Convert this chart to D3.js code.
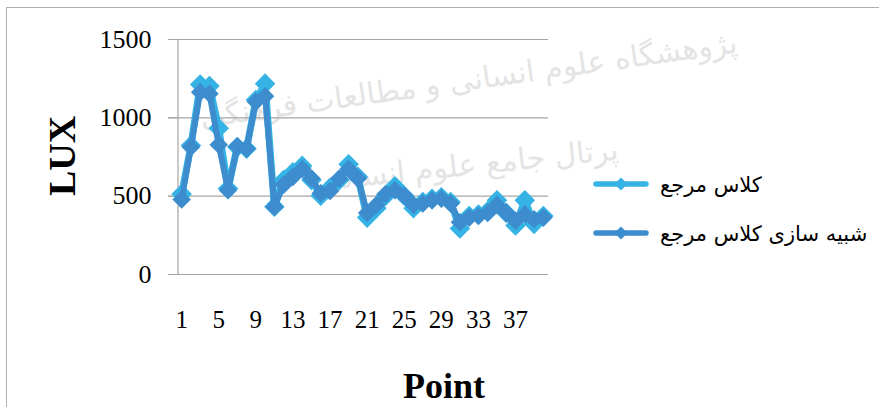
<!DOCTYPE html>
<html>
<head>
<meta charset="utf-8">
<script src="https://cdn.jsdelivr.net/npm/d3@7"></script>
<style>
  body { margin: 0; background: #fff; }
  svg { display: block; }
</style>
</head>
<body>
<div id="chart"></div>
<script>
var svgWidth = 879;
var svgHeight = 407;

// data
var points = d3.range(1, 41);
var seriesNames = ["کلاس مرجع", "شبیه سازی کلاس مرجع"];
var refClass = [510, 820, 1210, 1200, 930, 545, 810, 800, 1110, 1215,
  430, 600, 650, 690, 600, 500, 550, 600, 700, 620,
  360, 420, 500, 560, 500, 420, 460, 480, 490, 460,
  290, 370, 380, 400, 470, 390, 310, 470, 320, 370];
var simClass = [475, 810, 1160, 1150, 825, 535, 815, 800, 1100, 1135,
  430, 570, 620, 670, 610, 515, 530, 610, 670, 610,
  390, 440, 510, 535, 500, 440, 450, 470, 480, 450,
  330, 360, 370, 390, 440, 390, 340, 380, 350, 360];
var yTicks = [0, 500, 1000, 1500];
var xTickLabels = [1, 5, 9, 13, 17, 21, 25, 29, 33, 37];
var colors = ["#36b3e5", "#3d8ccd"];

var svg = d3.select("#chart")
  .append("svg")
  .attr("width", svgWidth)
  .attr("height", svgHeight);

// frame
svg.append("rect")
  .attr("x", 6.5).attr("y", 7.5)
  .attr("width", 900).attr("height", 450)
  .attr("fill", "none")
  .attr("stroke", "#b0b0b0");

// faint watermark
var wm = svg.append("g").attr("fill", "#e4e4e4").attr("font-family", "DejaVu Sans");
wm.append("text")
  .attr("transform", "translate(470,90) rotate(-8)")
  .attr("text-anchor", "middle")
  .attr("font-size", 30)
  .text("پژوهشگاه علوم انسانی و مطالعات فرهنگی");
wm.append("text")
  .attr("transform", "translate(470,175) rotate(-6)")
  .attr("text-anchor", "middle")
  .attr("font-size", 30)
  .text("پرتال جامع علوم انسانی");

// scales
var xScale = d3.scaleBand()
  .domain(points)
  .range([177, 548]);
var yScale = d3.scaleLinear()
  .domain([0, 1500])
  .range([274, 39]);

function px(d, i) { return xScale(points[i]) + xScale.bandwidth() / 2; }

// gridlines
svg.append("g")
  .selectAll("line")
  .data(yTicks)
  .enter()
  .append("line")
  .attr("x1", 168).attr("x2", 548)
  .attr("y1", function(d) { return yScale(d) + 0.5; })
  .attr("y2", function(d) { return yScale(d) + 0.5; })
  .attr("stroke", "#a6a6a6")
  .attr("stroke-width", 1.2);

// y axis
var yAxis = d3.axisLeft(yScale)
  .tickValues(yTicks)
  .tickFormat(d3.format("d"))
  .tickSize(9)
  .tickPadding(17);
var gy = svg.append("g")
  .attr("transform", "translate(177.5,0)")
  .call(yAxis);
gy.select(".domain").attr("stroke", "#a6a6a6").attr("stroke-width", 1.2);
gy.selectAll(".tick line").attr("stroke", "#a6a6a6");
gy.selectAll("text")
  .attr("font-family", "Liberation Serif")
  .attr("font-size", 26)
  .attr("fill", "#000");

// x axis labels
var xAxis = d3.axisBottom(xScale)
  .tickValues(xTickLabels)
  .tickSize(0)
  .tickPadding(36);
var gx = svg.append("g")
  .attr("transform", "translate(0,274)")
  .call(xAxis);
gx.select(".domain").remove();
gx.selectAll("text")
  .attr("font-family", "Liberation Serif")
  .attr("font-size", 25)
  .attr("fill", "#000");

// axis titles
svg.append("text")
  .attr("transform", "translate(75,156) rotate(-90)")
  .attr("text-anchor", "middle")
  .attr("font-family", "Liberation Serif")
  .attr("font-weight", "bold")
  .attr("font-size", 38)
  .text("LUX");
svg.append("text")
  .attr("x", 444).attr("y", 398)
  .attr("text-anchor", "middle")
  .attr("font-family", "Liberation Serif")
  .attr("font-weight", "bold")
  .attr("font-size", 36)
  .text("Point");

// series
var line = d3.line()
  .x(px)
  .y(function(d) { return yScale(d); });

var diamond = d3.symbol().type(d3.symbolDiamond2);

[refClass, simClass].forEach(function(values, k) {
  var g = svg.append("g");
  g.append("path")
    .datum(values)
    .attr("d", line)
    .attr("fill", "none")
    .attr("stroke", colors[k])
    .attr("stroke-width", k === 0 ? 7 : 6)
    .attr("stroke-linejoin", "round");
  g.selectAll("path.mk")
    .data(values)
    .enter()
    .append("path")
    .attr("class", "mk")
    .attr("d", diamond.size(k === 0 ? 270 : 220))
    .attr("transform", function(d, i) {
      return "translate(" + px(d, i) + "," + yScale(d) + ")";
    })
    .attr("fill", colors[k]);
});

// legend
var legend = svg.append("g");
seriesNames.forEach(function(name, k) {
  var ly = 184 + k * 49;
  legend.append("line")
    .attr("x1", 596).attr("x2", 646)
    .attr("y1", ly).attr("y2", ly)
    .attr("stroke", colors[k])
    .attr("stroke-width", 5.5)
    .attr("stroke-linecap", "round");
  legend.append("path")
    .attr("d", diamond.size(110))
    .attr("transform", "translate(621," + ly + ")")
    .attr("fill", colors[k]);
  legend.append("text")
    .attr("x", 660).attr("y", ly + 8)
    .attr("font-family", "DejaVu Sans")
    .attr("font-size", 21)
    .attr("fill", "#000")
    .text(name);
});
</script>
</body>
</html>
